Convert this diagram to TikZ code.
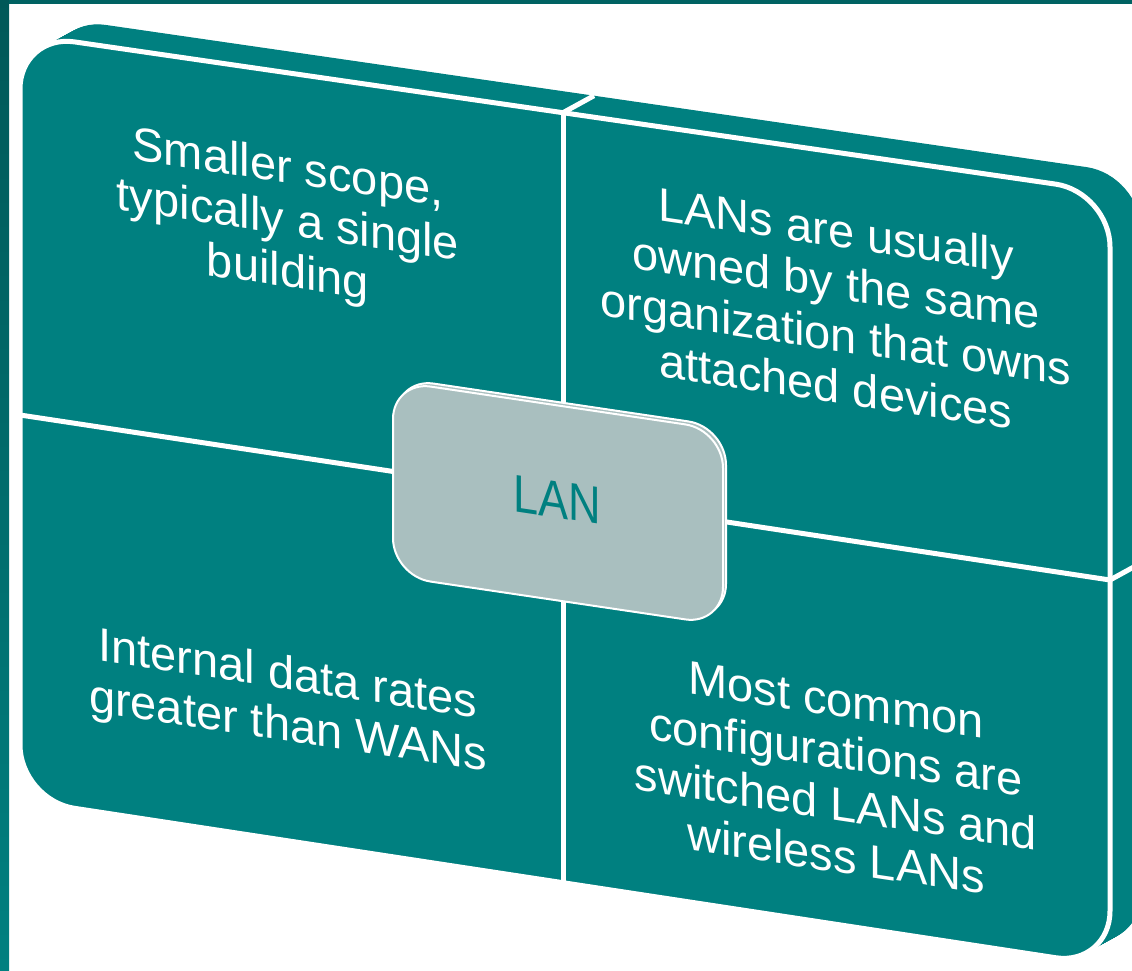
\documentclass[tikz,border=0pt]{standalone}
\usepackage{fontspec}
\setmainfont{Liberation Sans}
\definecolor{tealface}{RGB}{0,128,128}
\definecolor{framedark}{RGB}{0,98,98}
\definecolor{lanfill}{RGB}{169,191,191}
\tikzset{
  facepath/.style={insert path={(20,420) -- (20,34) -- (1110,192) -- (1110,966) -- (20,800) -- cycle}},
  lanpath/.style={insert path={(393,480) -- (393,381) -- (723,430) -- (723,625) -- (393,576) -- cycle}},
  divider/.style={draw=white, line width=5pt},
  quadtext/.style={text=white, font=\fontsize{47}{52}\selectfont, align=center, inner sep=0pt, yslant=-0.15},
  lantext/.style={text=tealface, font=\fontsize{53}{60}\selectfont, inner sep=0pt, yslant=-0.15, xscale=0.85},
  lanbox/.style={fill=lanfill, draw=white, line width=2pt, rounded corners=38pt},
}
\begin{document}
\begin{tikzpicture}[x=1pt,y=-1pt]
  % canvas
  \fill[white] (0,0) rectangle (1132,971);
  \useasboundingbox (0,0) rectangle (1132,971);
  % frame bands
  \fill[framedark] (0,0) rectangle (1132,4);
  \shade[top color=framedark!90!black, bottom color=tealface] (0,0) rectangle (9,971);

  % depth of the slab: the face swept back and up
  \foreach \i in {0,...,30} {
    \fill[tealface, rounded corners=55pt, shift={({31*\i/30},{-17*\i/30})}, facepath];
  }
  % face corner points of the dividers
  \coordinate (vtop) at (563,112.7);
  \coordinate (vbot) at (563,882.5);
  \coordinate (hleft) at (20,415);
  \coordinate (hright) at (1110,580);
  % divider lines across the depth
  \draw[divider] (vtop) -- ++(31,-17);
  \draw[divider] (hright) -- ++(31,-17);

  % front face
  \path[fill=tealface, draw=white, line width=5pt, rounded corners=55pt, facepath];
  \draw[divider] (vtop) -- (vbot);
  \draw[divider] (hleft) -- (hright);

  % centre box
  \path[lanbox, shift={(3,-3)}, lanpath];
  \path[lanbox, lanpath];

  % labels
  \node[quadtext] (scope) at (288,223) {Smaller scope,\\typically a single\\building};
  \node[quadtext] (owner) at (836,308) {LANs are usually\\owned by the same\\organization that owns\\attached devices};
  \node[quadtext] (rates) at (288,703) {Internal data rates\\greater than WANs};
  \node[quadtext] (config) at (836,778) {Most common\\configurations are\\switched LANs and\\wireless LANs};
  \node[lantext] (lan) at (557,500) {LAN};
\end{tikzpicture}
\end{document}
